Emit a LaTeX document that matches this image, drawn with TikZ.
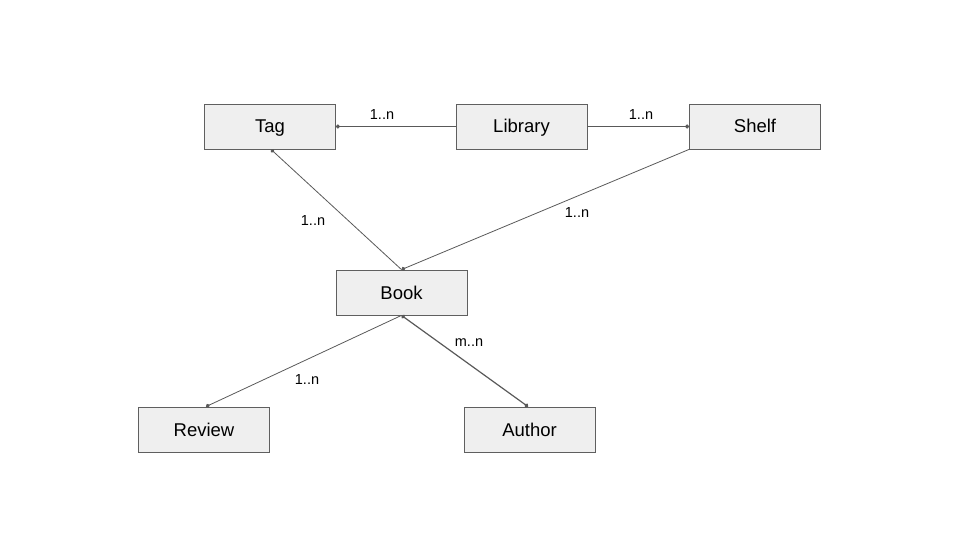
\documentclass[tikz,border=0pt]{standalone}
\usepackage{fontspec}
\setmainfont{Liberation Sans}
\usetikzlibrary{positioning,arrows.meta}

\definecolor{boxfill}{HTML}{EFEFEF}
\definecolor{boxdraw}{HTML}{5F5F5F}
\definecolor{linkgray}{HTML}{595959}

\begin{document}
\begin{tikzpicture}[x=1pt,y=-1pt,node distance=2cm,on grid,auto]
  \tikzstyle{entity}=[rectangle,draw=boxdraw,fill=boxfill,line width=0.8pt,
  			  minimum width=131pt,minimum height=45pt,
  			  text height=15pt,text depth=2pt,
  			  font=\fontsize{18.5}{22}\selectfont]
  \tikzstyle{link}=[draw=linkgray,line width=0.8pt,-{Circle[length=4pt]}]
  \tikzstyle{mult}=[font=\fontsize{14.5}{17}\selectfont,inner sep=0pt]

  \useasboundingbox (0,0) rectangle (960,540);

  \node[entity] (tag) at (270,126.5) {Tag};
  \node[entity] (library) [right=251.5pt of tag] {Library};
  \node[entity] (shelf) [right=233.5pt of library] {Shelf};
  \node[entity] (book) at (401.5,292.5) {Book};
  \node[entity] (review) at (204,429.5) {Review};
  \node[entity] (author) [right=325.5pt of review] {Author};

  \path[link] (library.west) -- (tag.east);
  \path[link] (library.east) -- (shelf.west);
  \path[link] (book.north) -- ([xshift=1pt]tag.south);
  \path[link] (shelf.south west) -- (book.north);
  \path[link] (book.south) -- ([xshift=2pt]review.north);
  \path[link,{Circle[length=4pt]}-{Circle[length=4pt]},line width=1.2pt]
    (book.south) -- ([xshift=-1.5pt]author.north);

  \node[mult] (m1) at (382,115) {1..n};
  \node[mult] (m2) at (641,115) {1..n};
  \node[mult] (m3) at (313,221) {1..n};
  \node[mult] (m4) at (577,213) {1..n};
  \node[mult] (m5) at (307,380) {1..n};
  \node[mult] (m6) at (469,343) {m..n};
\end{tikzpicture}
\end{document}
